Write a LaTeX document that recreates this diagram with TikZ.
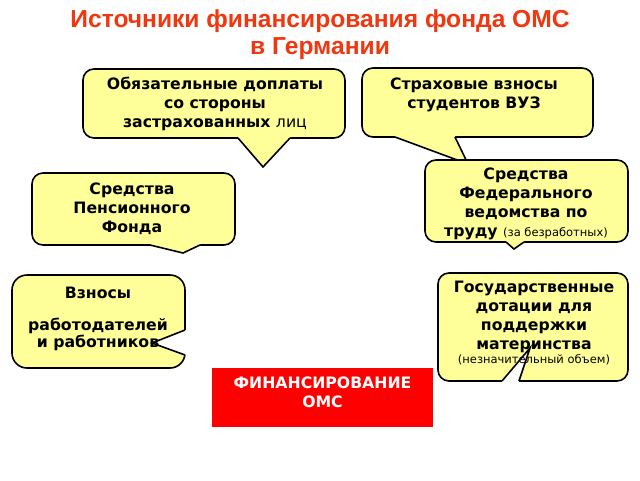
\documentclass[tikz,border=0pt]{standalone}
\usepackage{fontspec}
\newfontfamily\dvsans{DejaVu Sans}
\newfontfamily\libsans{Liberation Sans}
\definecolor{bubblefill}{RGB}{255,255,153}
\definecolor{titlered}{RGB}{240,55,15}
\definecolor{boxred}{RGB}{255,0,0}
\begin{document}
\begin{tikzpicture}[x=1pt,y=-1pt,
  bubble/.style={draw=black,line width=1.6pt,fill=bubblefill,rounded corners=11pt},
  ptr/.style={draw=black,line width=1.6pt,line join=miter},
  btext/.style={font=\dvsans\bfseries\fontsize{15.7}{19}\selectfont,align=center,inner sep=0pt},
  small/.style={font=\dvsans\fontsize{11.5}{13}\selectfont},
]
\useasboundingbox (0,0) rectangle (640,480);
% title
\node[font=\libsans\bfseries\fontsize{24.6}{27.5}\selectfont,text=titlered,align=center,inner sep=0pt] (title) at (320,34.5) {Источники финансирования фонда ОМС\\в Германии};
% callout 1
\draw[bubble] (83,69) rectangle (345,138);
\fill[bubblefill] (238,134) -- (238,138) -- (263,167) -- (290,138) -- (290,134) -- cycle;
\draw[ptr] (238,138) -- (263,167) -- (290,138);
\node[btext] (c1) at (215,104) {Обязательные доплаты\\со стороны\\застрахованных {\mdseries лиц}};
% callout 2
\draw[bubble] (362,68) rectangle (593,137);
\fill[bubblefill] (395,133) -- (395,137) -- (468,164) -- (455,137) -- (455,133) -- cycle;
\draw[ptr] (395,137) -- (468,164) -- (455,137);
\node[btext] (c2) at (474,95) {Страховые взносы\\студентов ВУЗ};
% callout 3
\draw[bubble] (32,173) rectangle (235,245);
\fill[bubblefill] (150,241) -- (150,245) -- (183,253) -- (200,245) -- (200,241) -- cycle;
\draw[ptr] (150,245) -- (183,253) -- (200,245);
\node[btext] (c3) at (132,209) {Средства\\Пенсионного\\Фонда};
% callout 5
\draw[bubble] (425,160) rectangle (628,242);
\fill[bubblefill] (506,238) -- (506,242) -- (514,249) -- (524,242) -- (524,238) -- cycle;
\draw[ptr] (506,242) -- (514,249) -- (524,242);
\node[btext] (c5) at (526,204) {Средства\\Федерального\\ведомства по\\труду {\mdseries\fontsize{11.5}{13}\selectfont (за безработных)}};
% callout 4
\draw[bubble,rounded corners=15pt] (12,275) rectangle (185,368);
\fill[white] (185,330) -- (152,343) -- (185,355) -- (189,355) -- (189,330) -- cycle;
\draw[ptr] (185,330) -- (152,343) -- (185,355);
\node[btext] (c4a) at (98,293) {Взносы};
\node[btext,font=\dvsans\bfseries\fontsize{15.7}{17}\selectfont] (c4b) at (98,334) {работодателей\\и работников};
% callout 6
\draw[bubble] (438,273) rectangle (628,381);
\fill[white] (502,381) -- (530,348) -- (519,381) -- (519,385) -- (502,385) -- cycle;
\draw[ptr] (502,381) -- (530,348) -- (519,381);
\node[btext] (c6) at (534,317) {Государственные\\дотации для\\поддержки\\материнства};
\node[small,inner sep=0pt] (c6s) at (534,360) {(незначительный объем)};
% red box
\node[fill=boxred,minimum width=221pt,minimum height=59pt,inner sep=0pt] (fin) at (322.5,397.5) {};
\node[btext,text=white] (fintext) at (322.5,392.5) {ФИНАНСИРОВАНИЕ\\ОМС};
\end{tikzpicture}
\end{document}
